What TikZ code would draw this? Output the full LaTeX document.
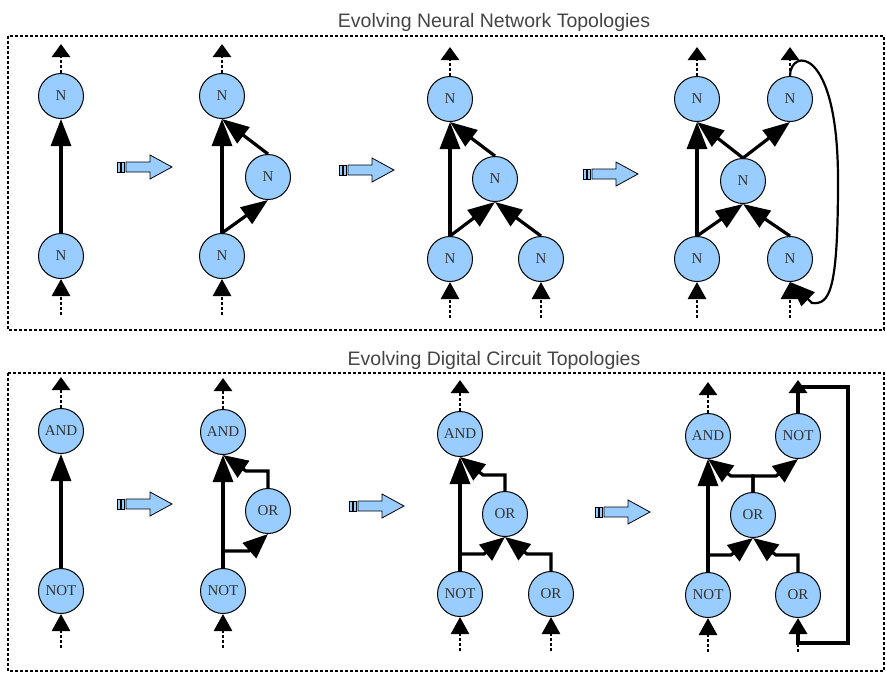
\documentclass[tikz,border=0pt]{standalone}
\usepackage{fontspec}
\setmainfont{Liberation Serif}
\newfontfamily\titlefont{Liberation Sans}
\usetikzlibrary{arrows.meta,calc}

\definecolor{cellfill}{HTML}{99CCFF}
\definecolor{labelgray}{HTML}{333333}
\definecolor{titlegray}{HTML}{444444}

\begin{document}
\begin{tikzpicture}[x=1pt,y=-1pt,
  cell/.style={circle, draw=black, line width=1pt, fill=cellfill,
    minimum size=45pt, inner sep=0pt,
    font=\fontsize{15}{15}\selectfont, text=labelgray},
  panel/.style={line width=2.6pt, dash pattern=on 3pt off 2pt},
  heading/.style={font=\titlefont\fontsize{19.5}{19.5}\selectfont, text=titlegray, anchor=base},
  dots/.style={line width=2.8pt, dash pattern=on 2.6pt off 2.4pt},
  outarrow/.style={dots, -{Triangle[length=13pt,width=18pt]}},
  inarrow/.style={dots, -{Triangle[length=17pt,width=18pt]}},
  link/.style={line width=3.2pt, -{Triangle[length=27pt,width=20pt]}},
  wire/.style={line width=3.2pt, -{Triangle[length=25pt,width=20pt]}},
  loop/.style={line width=2.2pt, -{Triangle[length=25pt,width=19pt]}},
  evolve/.pic={
    \begin{scope}[fill=cellfill, draw=black, line width=0.8pt]
      \filldraw (0,-5) rectangle (3,5);
      \filldraw (4,-5) rectangle (7,5);
      \filldraw (9,-5) -- (33,-5) -- (33,-12) -- (55,0) -- (33,12)
        -- (33,5) -- (9,5) -- cycle;
    \end{scope}
  }
]
\useasboundingbox (0,0) rectangle (886,673);

% ---------------- neural networks ----------------
\node[heading] (nntitle) at (494,27) {Evolving Neural Network Topologies};
\draw[panel] (8,36) rectangle (884,330);

% stage 1
\node[cell] (a1t) at (61,96) {N};
\node[cell] (a1b) at (61,256) {N};
\draw[link] (a1b.north) -- (a1t.south);
\draw[outarrow] (a1t.north) -- ++(0,-29);
\draw[inarrow] ($(a1b.south)+(0,36)$) -- (a1b.south);

\pic at (117,167) {evolve};

% stage 2
\node[cell] (b2t) at (222,96) {N};
\node[cell] (b2m) at (268,177) {N};
\node[cell] (b2b) at (222,256) {N};
\draw[link] (b2b.north) -- (b2t.south);
\draw[link] (b2b.north) -- (b2m.south);
\draw[link] (b2m.north) -- (b2t.south);
\draw[outarrow] (b2t.north) -- ++(0,-29);
\draw[inarrow] ($(b2b.south)+(0,36)$) -- (b2b.south);

\pic at (339,170) {evolve};

% stage 3
\node[cell] (c3t) at (450,99) {N};
\node[cell] (c3m) at (495,179) {N};
\node[cell] (c3l) at (450,259) {N};
\node[cell] (c3r) at (541,259) {N};
\draw[link] (c3l.north) -- (c3t.south);
\draw[link] (c3l.north) -- (c3m.south);
\draw[link] (c3r.north) -- (c3m.south);
\draw[link] (c3m.north) -- (c3t.south);
\draw[outarrow] (c3t.north) -- ++(0,-29);
\draw[inarrow] ($(c3l.south)+(0,36)$) -- (c3l.south);
\draw[inarrow] ($(c3r.south)+(0,36)$) -- (c3r.south);

\pic at (583,174) {evolve};

% stage 4
\node[cell] (d4tl) at (697,99) {N};
\node[cell] (d4tr) at (790,99) {N};
\node[cell] (d4m) at (743,181) {N};
\node[cell] (d4bl) at (697,259) {N};
\node[cell] (d4br) at (790,259) {N};
\draw[link] (d4bl.north) -- (d4tl.south);
\draw[link] (d4bl.north) -- (d4m.south);
\draw[link] (d4br.north) -- (d4m.south);
\draw[link] (d4m.north) -- (d4tl.south);
\draw[link] (d4m.north) -- (d4tr.south);
\draw[outarrow] (d4tl.north) -- ++(0,-29);
\draw[outarrow] (d4tr.north) -- ++(0,-29);
\draw[inarrow] ($(d4bl.south)+(0,36)$) -- (d4bl.south);
\draw[inarrow] ($(d4br.south)+(0,36)$) -- (d4br.south);
\draw[loop] (d4tr.north) .. controls (790,48) and (838,45) .. (838,180)
  .. controls (838,290) and (830,305) .. (812,303) -- (d4br.south);

% ---------------- digital circuits ----------------
\node[heading] (dctitle) at (494,365) {Evolving Digital Circuit Topologies};
\draw[panel] (8,373) rectangle (884,671);

% stage 1
\node[cell] (e1a) at (61,431) {AND};
\node[cell] (e1n) at (61,591) {NOT};
\draw[link] (e1n.north) -- (e1a.south);
\draw[outarrow] (e1a.north) -- ++(0,-31);
\draw[inarrow] ($(e1n.south)+(0,34)$) -- (e1n.south);

\pic at (117,504) {evolve};

% stage 2
\node[cell] (f2a) at (223,432) {AND};
\node[cell] (f2o) at (268,511) {OR};
\node[cell] (f2n) at (223,591) {NOT};
\draw[link] (f2n.north) -- (f2a.south);
\draw[wire] (f2n.north) |- (249,551) -- (f2o.south);
\draw[wire] (f2o.north) |- (246,471) -- (f2a.south);
\draw[outarrow] (f2a.north) -- ++(0,-31);
\draw[inarrow] ($(f2n.south)+(0,34)$) -- (f2n.south);

\pic at (349,506) {evolve};

% stage 3
\node[cell] (g3a) at (460,434) {AND};
\node[cell] (g3o) at (505,514) {OR};
\node[cell] (g3n) at (460,594) {NOT};
\node[cell] (g3r) at (551,594) {OR};
\draw[link] (g3n.north) -- (g3a.south);
\draw[wire] (g3n.north) |- (484,554) -- (g3o.south);
\draw[wire] (g3r.north) |- (527,554) -- (g3o.south);
\draw[wire] (g3o.north) |- (483,475) -- (g3a.south);
\draw[outarrow] (g3a.north) -- ++(0,-31);
\draw[inarrow] ($(g3n.south)+(0,34)$) -- (g3n.south);
\draw[inarrow] ($(g3r.south)+(0,34)$) -- (g3r.south);

\pic at (595,512) {evolve};

% stage 4
\node[cell] (h4a) at (708,436) {AND};
\node[cell] (h4t) at (798,436) {NOT};
\node[cell] (h4o) at (753,515) {OR};
\node[cell] (h4n) at (708,595) {NOT};
\node[cell] (h4r) at (798,595) {OR};
\draw[link] (h4n.north) -- (h4a.south);
\draw[wire] (h4n.north) |- (731,555) -- (h4o.south);
\draw[wire] (h4r.north) |- (776,555) -- (h4o.south);
\draw[wire] (h4o.north) |- (731,476) -- (h4a.south);
\draw[wire] (h4o.north) |- (776,476) -- (h4t.south);
\draw[outarrow] (h4a.north) -- ++(0,-31);
\draw[line width=3.2pt, -{Triangle[length=13pt,width=18pt]}] (h4t.north) -- ++(0,-33);
\draw[inarrow] ($(h4n.south)+(0,34)$) -- (h4n.south);
% feedback from the NOT output back into the lower OR
\coordinate (fbtop) at (798,387);
\coordinate (fbbot) at (798,643);
\draw[dots] ($(fbbot)+(0,9)$) -- (fbbot);
\draw[line width=3.2pt, -{Triangle[length=16pt,width=18pt]}]
  (fbtop) -- (848,387) -- (848,643) -- (fbbot) -- (h4r.south);
\end{tikzpicture}
\end{document}
